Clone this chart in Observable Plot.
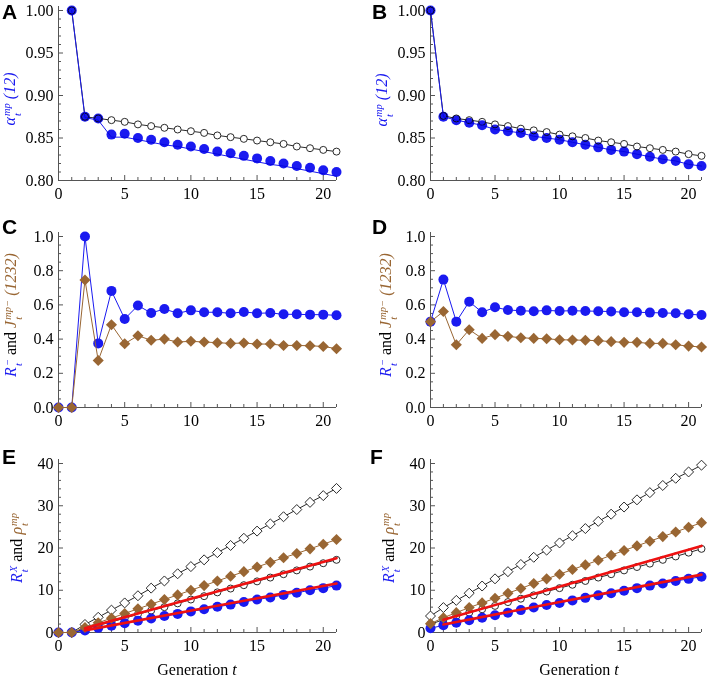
<!DOCTYPE html>
<html><head><meta charset="utf-8">
<script src="https://cdn.jsdelivr.net/npm/d3@7"></script>
<script src="https://cdn.jsdelivr.net/npm/@observablehq/plot@0.6"></script>
<style>
body{margin:0;background:#fff;}
#fig{position:relative;width:714px;height:678px;background:#fff;overflow:hidden;font-family:"Liberation Serif","Times New Roman",serif;}
.panel{position:absolute;}
.letter{position:absolute;font:bold 21px "Liberation Sans",Arial,sans-serif;line-height:1;color:#000;}
.ylab{position:absolute;white-space:nowrap;font-size:16px;font-style:italic;transform:translate(-50%,-50%) rotate(-90deg);line-height:1;}
.ss{display:inline-flex;flex-direction:column;font-size:0.66em;line-height:1;vertical-align:0.45em;margin-left:1px;}
.rm{font-style:normal;color:#000;}
.bl{color:#1a1af0;}
.br{color:#996633;}
.xlab{position:absolute;white-space:nowrap;font-size:16px;transform:translateX(-50%);line-height:1;}
</style></head>
<body>
<div id="fig"></div>
<script>
// ---------- data ----------
const genA = [1,2,3,4,5,6,7,8,9,10,11,12,13,14,15,16,17,18,19,20,21];
const gen0 = [0,1,2,3,4,5,6,7,8,9,10,11,12,13,14,15,16,17,18,19,20,21];

// Panel A
const aBlack = [1.000,0.875,0.873,0.871,0.869,0.866,0.864,0.862,0.860,0.858,0.856,0.853,0.851,0.849,0.847,0.845,0.843,0.840,0.838,0.836,0.834];
const aBlue = [1.000,0.875,0.873,0.854,0.855,0.850,0.848,0.845,0.842,0.840,0.837,0.834,0.832,0.829,0.826,0.823,0.820,0.817,0.815,0.812,0.810];
const aBlueLine = [1.000,0.874,0.871,0.851,0.851,0.848,0.845,0.842,0.840,0.837,0.834,0.831,0.828,0.825,0.822,0.819,0.817,0.814,0.811,0.808,0.805];

// Panel B
const bBlack = [1.000,0.876,0.873,0.871,0.869,0.866,0.864,0.861,0.859,0.857,0.854,0.852,0.850,0.847,0.845,0.843,0.840,0.838,0.836,0.834,0.831,0.829];
const bBlue = [1.000,0.875,0.871,0.868,0.865,0.860,0.858,0.856,0.852,0.850,0.848,0.845,0.842,0.839,0.836,0.834,0.831,0.828,0.825,0.823,0.819,0.817];

// Panel C
const cBlue = [0,0,1.0,0.375,0.682,0.518,0.596,0.553,0.576,0.551,0.568,0.557,0.557,0.551,0.559,0.551,0.553,0.545,0.545,0.543,0.543,0.539];
const cBrown = [0,0,0.746,0.275,0.484,0.373,0.420,0.393,0.400,0.383,0.387,0.383,0.379,0.375,0.377,0.371,0.371,0.363,0.363,0.361,0.357,0.344];

// Panel D
const dBlue = [0.502,0.748,0.502,0.619,0.557,0.586,0.570,0.566,0.563,0.568,0.564,0.566,0.564,0.563,0.561,0.557,0.557,0.555,0.553,0.551,0.545,0.541];
const dBrown = [0.502,0.561,0.367,0.455,0.404,0.426,0.416,0.408,0.404,0.402,0.396,0.395,0.393,0.391,0.385,0.381,0.381,0.375,0.375,0.367,0.359,0.354];

// Panel E
const eOpenDiamond = [0,0,1.9,3.6,5.3,7.0,8.7,10.5,12.2,13.9,15.6,17.2,18.9,20.6,22.3,24.0,25.7,27.4,29.1,30.8,32.4,34.1];
const eBrown = [0,0,1.2,2.3,3.4,4.5,5.6,6.7,7.8,8.9,10.0,11.1,12.2,13.3,14.4,15.5,16.6,17.7,18.7,19.8,20.9,22.0];
const eOpenCircle = [0,0,0.8,1.7,2.5,3.4,4.3,5.2,6.0,6.9,7.8,8.6,9.5,10.4,11.2,12.1,13.0,13.8,14.7,15.6,16.4,17.2];
const eBlue = [0,0,0.5,1.1,1.6,2.2,2.8,3.3,3.9,4.4,5.0,5.5,6.1,6.6,7.2,7.8,8.3,8.9,9.4,10.0,10.5,11.1];
const eRedX = [2,21];
const eRedUpper = [1.0,17.6];
const eRedLower = [0.5,11.6];

// Panel F
const fOpenDiamond = [3.9,5.9,7.6,9.3,11.0,12.7,14.4,16.1,17.8,19.5,21.2,22.9,24.6,26.3,28.0,29.7,31.4,33.1,34.8,36.5,38.0,39.6];
const fBrown = [2.1,3.5,4.7,5.9,7.0,8.1,9.3,10.4,11.6,12.7,13.8,14.9,16.0,17.1,18.3,19.4,20.5,21.6,22.7,23.8,24.9,26.0];
const fOpenCircle = [2.0,3.0,3.9,4.7,5.5,6.3,7.2,8.0,8.8,9.7,10.5,11.3,12.2,13.0,13.8,14.7,15.5,16.3,17.2,18.0,18.9,19.8];
const fBlue = [1.0,1.7,2.3,2.9,3.5,4.1,4.7,5.3,5.9,6.5,7.0,7.6,8.2,8.8,9.3,9.9,10.5,11.1,11.6,12.2,12.7,13.2];
const fRedX = [1,21];
const fRedUpper = [3.0,20.5];
const fRedLower = [1.9,13.7];

// ticks
const xMajor = [0,5,10,15,20];
const xMinor = [1,2,3,4,6,7,8,9,11,12,13,14,16,17,18,19,21];
const yMajorAB = [0.80,0.85,0.90,0.95,1.00];
const yMinorAB = [0.81,0.82,0.83,0.84,0.86,0.87,0.88,0.89,0.91,0.92,0.93,0.94,0.96,0.97,0.98,0.99];
const yMajorCD = [0.0,0.2,0.4,0.6,0.8,1.0];
const yMinorCD = [0.05,0.1,0.15,0.25,0.3,0.35,0.45,0.5,0.55,0.65,0.7,0.75,0.85,0.9,0.95];
const yMajorEF = [0,10,20,30,40];
const yMinorEF = [2,4,6,8,12,14,16,18,22,24,26,28,32,34,36,38];

// ---------- styling ----------
const BLUE = "#1a1af0", BROWN = "#996633", RED = "#ee1111", BLACK = "#2a2a2a", AXIS = "#555";
const fig = document.getElementById("fig");

function frame(yDomain, yMajor, yMinor, yFmt) {
  return [
    Plot.ruleX([0], {stroke: AXIS, strokeWidth: 1, insetTop: -4}),
    Plot.ruleY([yDomain[0]], {stroke: AXIS, strokeWidth: 1}),
    Plot.axisX({ticks: xMajor, tickSize: -5, tickPadding: 12, tickFormat: d => String(d), stroke: AXIS, fill: "#000", fontSize: 16, label: null}),
    Plot.axisX({ticks: xMinor, tickSize: -3, stroke: AXIS, fill: "none", label: null}),
    Plot.axisY({ticks: yMajor, tickSize: -5, tickPadding: 10, tickFormat: yFmt, stroke: AXIS, fill: "#000", fontSize: 16, label: null}),
    Plot.axisY({ticks: yMinor, tickSize: -3, stroke: AXIS, fill: "none", label: null})
  ];
}

function panel({left, top, w, h, ml, mr, mt, mb, yDomain, yMajor, yMinor, yFmt, marks}) {
  const chart = Plot.plot({
    width: w, height: h, marginLeft: ml, marginRight: mr, marginTop: mt, marginBottom: mb,
    style: {fontFamily: '"Liberation Serif","Times New Roman",serif', fontSize: "16px", background: "transparent", overflow: "visible", color: "#000"},
    x: {domain: [0, 21]},
    y: {domain: yDomain},
    marks: [...frame(yDomain, yMajor, yMinor, yFmt), ...marks]
  });
  const div = document.createElement("div");
  div.className = "panel";
  div.style.left = left + "px"; div.style.top = top + "px";
  div.style.width = w + "px"; div.style.height = h + "px";
  div.appendChild(chart);
  fig.appendChild(div);
}

const L = {left: 0, w: 357, ml: 58, mr: 21};
const R = {left: 357, w: 357, ml: 73, mr: 13};
const row1 = {top: 0, h: 212, mt: 10, mb: 32, yDomain: [0.8, 1.0], yMajor: yMajorAB, yMinor: yMinorAB, yFmt: d3.format(".2f")};
const row2 = {top: 212, h: 220, mt: 24, mb: 25, yDomain: [0, 1], yMajor: yMajorCD, yMinor: yMinorCD, yFmt: d3.format(".1f")};
const row3 = {top: 432, h: 246, mt: 31, mb: 46, yDomain: [0, 40], yMajor: yMajorEF, yMinor: yMinorEF, yFmt: d => String(d)};

const lineOpt = (xs, stroke) => ({x: xs, y: d => d, stroke, strokeWidth: 1});

// A
panel({...L, ...row1, marks: [
  Plot.line(aBlack, lineOpt(genA, BLACK)),
  Plot.dot(aBlack, {x: genA, y: d => d, r: 3.5, fill: "white", stroke: BLACK, strokeWidth: 1}),
  Plot.line(aBlueLine, lineOpt(genA, BLUE)),
  Plot.dot(aBlue, {x: genA, y: d => d, r: 5, fill: BLUE, mixBlendMode: "multiply"})
]});
// B
panel({...R, ...row1, marks: [
  Plot.line(bBlack, lineOpt(gen0, BLACK)),
  Plot.dot(bBlack, {x: gen0, y: d => d, r: 3.5, fill: "white", stroke: BLACK, strokeWidth: 1}),
  Plot.line(bBlue, lineOpt(gen0, BLUE)),
  Plot.dot(bBlue, {x: gen0, y: d => d, r: 5, fill: BLUE, mixBlendMode: "multiply"})
]});
// C
panel({...L, ...row2, marks: [
  Plot.line(cBlue, lineOpt(gen0, BLUE)),
  Plot.dot(cBlue, {x: gen0, y: d => d, r: 5, fill: BLUE}),
  Plot.line(cBrown, lineOpt(gen0, BROWN)),
  Plot.dot(cBrown, {x: gen0, y: d => d, r: 5, symbol: "diamond2", fill: BROWN})
]});
// D
panel({...R, ...row2, marks: [
  Plot.line(dBlue, lineOpt(gen0, BLUE)),
  Plot.dot(dBlue, {x: gen0, y: d => d, r: 5, fill: BLUE}),
  Plot.line(dBrown, lineOpt(gen0, BROWN)),
  Plot.dot(dBrown, {x: gen0, y: d => d, r: 5, symbol: "diamond2", fill: BROWN})
]});

function rowThreeMarks(od, oc, bl, brn, rx, ru, rl) {
  return [
    Plot.line(od, lineOpt(gen0, BLACK)),
    Plot.dot(od, {x: gen0, y: d => d, r: 4.5, symbol: "diamond2", fill: "white", stroke: BLACK, strokeWidth: 1}),
    Plot.line(oc, lineOpt(gen0, BLACK)),
    Plot.dot(oc, {x: gen0, y: d => d, r: 3.5, fill: "white", stroke: BLACK, strokeWidth: 1}),
    Plot.line(bl, lineOpt(gen0, BLUE)),
    Plot.dot(bl, {x: gen0, y: d => d, r: 5, fill: BLUE}),
    Plot.line(brn, lineOpt(gen0, BROWN)),
    Plot.dot(brn, {x: gen0, y: d => d, r: 5, symbol: "diamond2", fill: BROWN}),
    Plot.line(ru, {x: rx, y: d => d, stroke: RED, strokeWidth: 2.6}),
    Plot.line(rl, {x: rx, y: d => d, stroke: RED, strokeWidth: 2.6})
  ];
}
// E
panel({...L, ...row3, marks: rowThreeMarks(eOpenDiamond, eOpenCircle, eBlue, eBrown, eRedX, eRedUpper, eRedLower)});
// F
panel({...R, ...row3, marks: rowThreeMarks(fOpenDiamond, fOpenCircle, fBlue, fBrown, fRedX, fRedUpper, fRedLower)});

// ---------- text overlays ----------
function addHTML(cls, html, left, top) {
  const d = document.createElement("div");
  d.className = cls; d.innerHTML = html;
  d.style.left = left + "px"; d.style.top = top + "px";
  fig.appendChild(d);
}
[["A",2,1],["B",372,1],["C",2,216],["D",372,216],["E",2,446],["F",370,446]].forEach(([t,x,y]) => addHTML("letter", t, x, y));

const labAB = `<span class="bl">α<span class="ss"><span>mp</span><span>t</span></span> (12)</span>`;
const labCD = `<span class="bl">R<span class="ss"><span>−</span><span>t</span></span></span> <span class="rm">and</span> <span class="br">J<span class="ss"><span>mp−</span><span>t</span></span> (1232)</span>`;
const labEF = `<span class="bl">R<span class="ss"><span>X</span><span>t</span></span></span> <span class="rm">and</span> <span class="br">ρ<span class="ss"><span>mp</span><span>t</span></span></span>`;
addHTML("ylab", labAB, 13, 99);
addHTML("ylab", labAB, 385, 100);
addHTML("ylab", labCD, 14, 315);
addHTML("ylab", labCD, 389, 315);
addHTML("ylab", labEF, 20, 548);
addHTML("ylab", labEF, 392, 548);
addHTML("xlab", `Generation <i>t</i>`, 197, 662);
addHTML("xlab", `Generation <i>t</i>`, 579, 662);
</script>
</body></html>
